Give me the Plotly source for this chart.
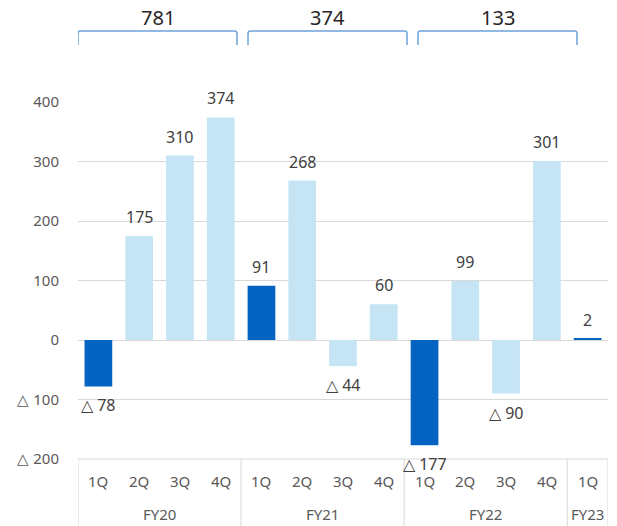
import plotly.graph_objects as go

# Quarterly values by fiscal year (negative = loss, shown with △)
fiscal_years = ["FY20", "FY21", "FY22", "FY23"]
quarters = ["1Q", "2Q", "3Q", "4Q"]
fy20 = [-78, 175, 310, 374]
fy21 = [91, 268, -44, 60]
fy22 = [-177, 99, -90, 301]
fy23 = [2]
annual_totals = [781, 374, 133]

y_ticks = [-200, -100, 0, 100, 200, 300, 400]

DARK = "#0563C1"
LIGHT = "#C5E5F5"
GRID = "#D9D9D9"
BRACKET = "#6FA3DA"
FONT = "Noto Sans"

groups = [fy20, fy21, fy22, fy23]
values, colors, qlabels = [], [], []
for g, vals in enumerate(groups):
    for i, v in enumerate(vals):
        values.append(v)
        qlabels.append(quarters[i])
        colors.append(DARK if i == 0 else LIGHT)
xs = list(range(len(values)))


def fmt(v):
    return f"△ {abs(v)}" if v < 0 else f"{v}"


fig = go.Figure()
fig.add_trace(go.Bar(
    x=xs, y=values, marker=dict(color=colors, line=dict(width=0)),
    width=0.68, hoverinfo="skip", showlegend=False,
))

annotations = []
# value labels
for x, v in zip(xs, values):
    annotations.append(dict(
        x=x, y=v, xref="x", yref="y", text=fmt(v), showarrow=False,
        yanchor="middle", yshift=19 if v >= 0 else -19,
        font=dict(family=FONT, size=16, color="#404040"),
    ))

# category axis: quarter row and fiscal-year row
plot_h = 526 - 102 - 67
q_y = -(481 - 459) / plot_h
fy_y = -(514 - 459) / plot_h
bottom_y = -67 / plot_h
for x, q in zip(xs, qlabels):
    annotations.append(dict(
        x=x, y=q_y, xref="x", yref="paper", text=q, showarrow=False,
        yanchor="middle", font=dict(family=FONT, size=15, color="#595959"),
    ))

shapes = []
start = 0
boundaries = [-0.5]
for g, vals in enumerate(groups):
    end = start + len(vals)
    center = (start + end - 1) / 2
    annotations.append(dict(
        x=center, y=fy_y, xref="x", yref="paper", text=fiscal_years[g],
        showarrow=False, yanchor="middle",
        font=dict(family=FONT, size=15, color="#595959"),
    ))
    boundaries.append(end - 0.5)
    start = end

for b in boundaries:
    shapes.append(dict(type="line", xref="x", yref="paper", x0=b, x1=b,
                       y0=0, y1=bottom_y, line=dict(color=GRID, width=1)))
shapes.append(dict(type="line", xref="x", yref="paper", x0=-0.5, x1=len(values) - 0.5,
                   y0=0, y1=0, line=dict(color=GRID, width=1)))

# annual total brackets over each full fiscal year, with softly rounded corners
br_top = (459 - 31) / plot_h
br_bot = (459 - 45) / plot_h
rx, ry = 0.06, 2.5 / plot_h
for g, total in enumerate(annual_totals):
    x0 = -0.5 + g * 4.17
    x1 = x0 + 3.9
    path = (f"M {x0},{br_bot} L {x0},{br_top - ry} Q {x0},{br_top} {x0 + rx},{br_top} "
            f"L {x1 - rx},{br_top} Q {x1},{br_top} {x1},{br_top - ry} L {x1},{br_bot}")
    shapes.append(dict(type="path", xref="x", yref="paper", path=path,
                       line=dict(color=BRACKET, width=1.5)))
    annotations.append(dict(
        x=(x0 + x1) / 2, y=(459 - 18) / plot_h, xref="x", yref="paper",
        text=str(total), showarrow=False, yanchor="middle",
        font=dict(family=FONT, size=20, color="#262626"),
    ))

fig.update_layout(
    width=617, height=526,
    margin=dict(l=78, r=9, t=102, b=67),
    paper_bgcolor="white", plot_bgcolor="white",
    xaxis=dict(range=[-0.5, len(values) - 0.5], showticklabels=False,
               showgrid=False, zeroline=False, showline=False, fixedrange=True),
    yaxis=dict(range=[-200, 400], tickvals=y_ticks,
               ticktext=[fmt(t) for t in y_ticks],
               showgrid=True, gridcolor=GRID, gridwidth=1,
               zeroline=True, zerolinecolor=GRID, zerolinewidth=1,
               showline=False, ticks="", ticklabelstandoff=18,
               tickfont=dict(family=FONT, size=15, color="#595959")),
    annotations=annotations,
    shapes=shapes,
    font=dict(family=FONT),
)

fig.write_html("out.html")
